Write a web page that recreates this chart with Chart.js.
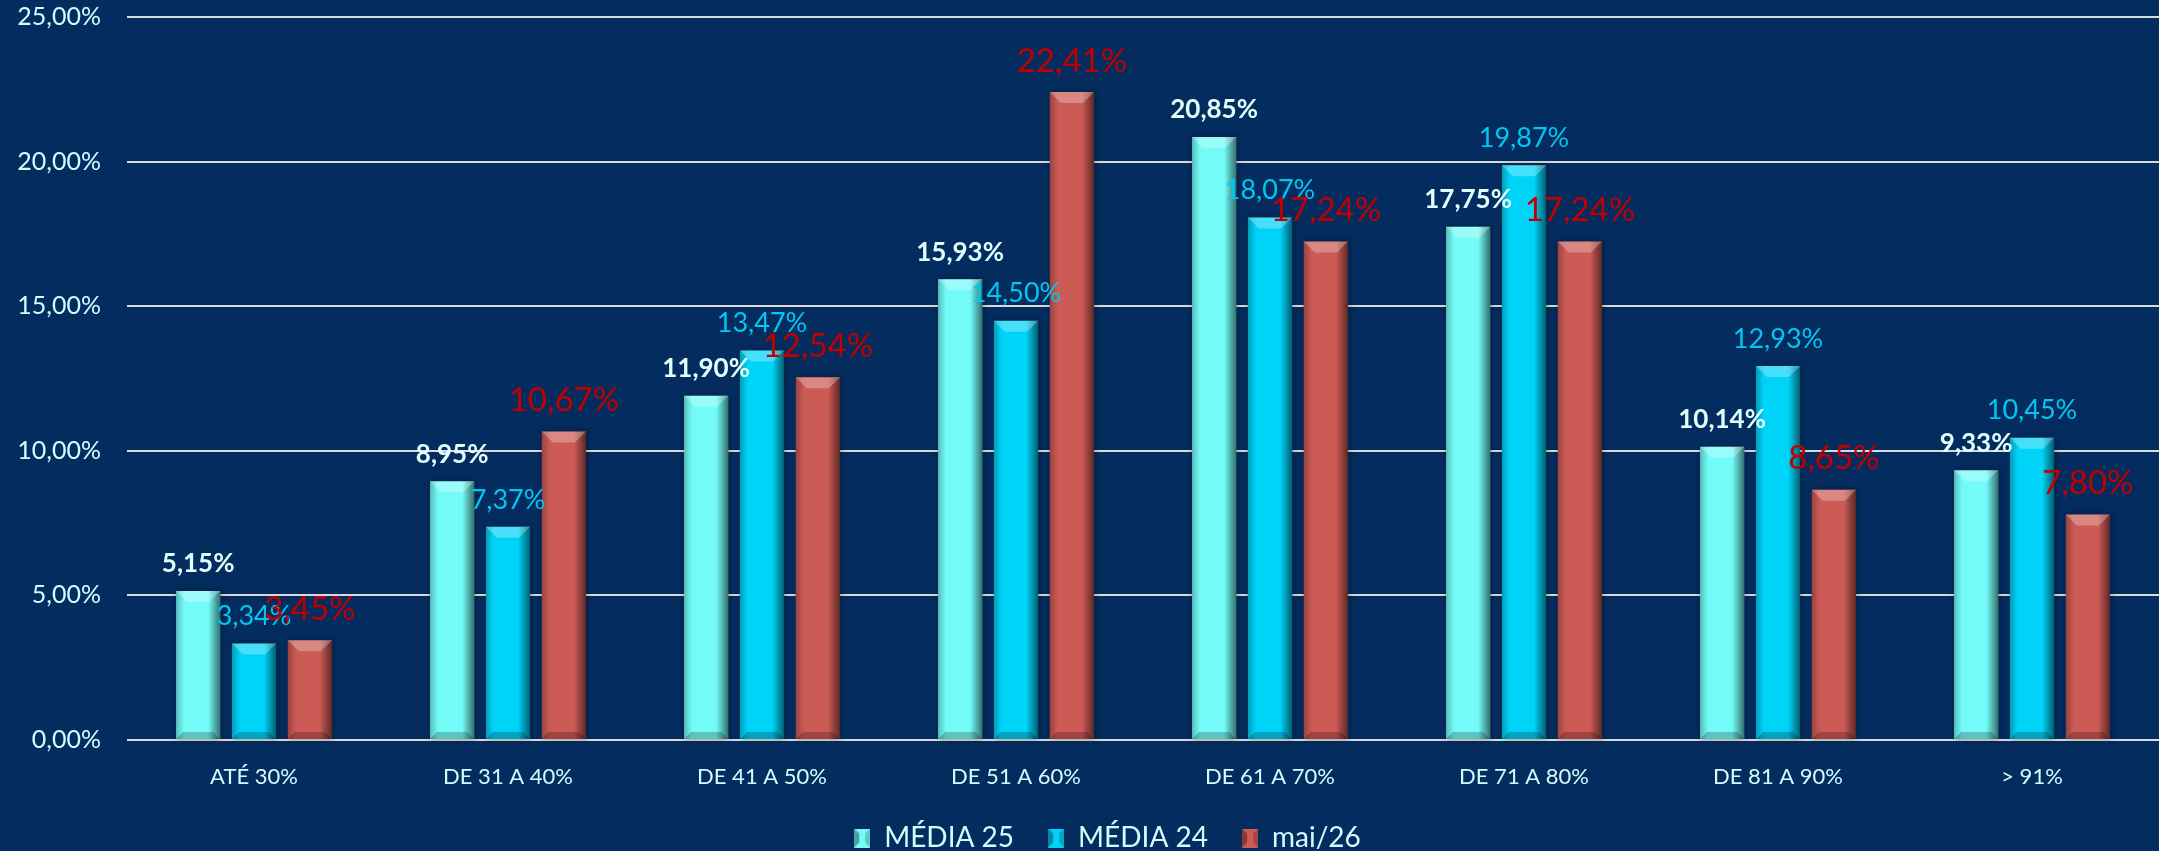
<!DOCTYPE html>
<html>
<head>
<meta charset="utf-8">
<title>Faixas</title>
<script src="https://cdn.jsdelivr.net/npm/chart.js@4.4.1/dist/chart.umd.min.js"></script>
<style>
  html, body { margin: 0; padding: 0; background: #042c5e; }
  #wrap { width: 2159px; height: 851px; position: relative; }
</style>
</head>
<body>
<div id="wrap"><canvas id="faixasChart"></canvas></div>
<script>
let categorias = ["ATÉ 30%", "DE 31 A 40%", "DE 41 A 50%", "DE 51 A 60%", "DE 61 A 70%", "DE 71 A 80%", "DE 81 A 90%", "> 91%"];
let media25 = [5.15, 8.95, 11.90, 15.93, 20.85, 17.75, 10.14, 9.33];
let media24 = [3.34, 7.37, 13.47, 14.50, 18.07, 19.87, 12.93, 10.45];
let mai26 = [3.45, 10.67, 12.54, 22.41, 17.24, 17.24, 8.65, 7.80];
let yTicks = [0, 5, 10, 15, 20, 25];

let fonte = "Lato, 'Open Sans', sans-serif";

function pct(v) {
    return v.toFixed(2).replace('.', ',') + '%';
}

// small bevelled square for the legend
function legendBox(cor) {
    let c = document.createElement('canvas');
    c.width = 16; c.height = 19;
    let g = c.getContext('2d');
    g.fillStyle = cor;
    g.fillRect(0, 0, 16, 19);
    g.fillStyle = 'rgba(0,0,0,0.35)';
    g.beginPath(); g.moveTo(0, 0); g.lineTo(5, 5); g.lineTo(5, 14); g.lineTo(0, 19); g.fill();
    g.fillStyle = 'rgba(0,0,0,0.2)';
    g.beginPath(); g.moveTo(16, 0); g.lineTo(11, 5); g.lineTo(11, 14); g.lineTo(16, 19); g.fill();
    return c;
}

// nudge the legend a bit to the right
const legendaPlugin = {
    id: 'legendaShift',
    afterLayout(chart) {
        chart.legend.left += 28;
        chart.legend.right += 28;
    }
};

// soft dark halo behind each bar
const sombraPlugin = {
    id: 'sombra',
    beforeDatasetsDraw(chart) {
        let ctx = chart.ctx;
        chart.data.datasets.forEach((ds, i) => {
            chart.getDatasetMeta(i).data.forEach((bar) => {
                ctx.save();
                ctx.shadowColor = 'rgba(0,0,0,0.55)';
                ctx.shadowBlur = 6;
                ctx.shadowOffsetX = 1;
                ctx.fillStyle = 'rgba(0,20,40,0.6)';
                ctx.fillRect(bar.x - bar.width / 2, bar.y, bar.width, bar.base - bar.y);
                ctx.restore();
            });
        });
    }
};

// light top bevel, dark right edge and bottom on each bar
const bevelPlugin = {
    id: 'bevel',
    afterDatasetsDraw(chart) {
        let ctx = chart.ctx;
        chart.data.datasets.forEach((ds, i) => {
            chart.getDatasetMeta(i).data.forEach((bar) => {
                let x0 = bar.x - bar.width / 2;
                let x1 = bar.x + bar.width / 2;
                let top = bar.y;
                let base = bar.base;
                let b = 11;
                ctx.save();

                let gl = ctx.createLinearGradient(x0, 0, x0 + 8, 0);
                gl.addColorStop(0, 'rgba(0,0,0,0.25)');
                gl.addColorStop(1, 'rgba(0,0,0,0)');
                ctx.fillStyle = gl;
                ctx.fillRect(x0, top, 8, base - top);

                let gr = ctx.createLinearGradient(x1 - 12, 0, x1, 0);
                gr.addColorStop(0, 'rgba(0,0,0,0)');
                gr.addColorStop(1, 'rgba(0,0,0,0.55)');
                ctx.fillStyle = gr;
                ctx.fillRect(x1 - 12, top, 12, base - top);

                ctx.fillStyle = 'rgba(255,255,255,0.28)';
                ctx.beginPath();
                ctx.moveTo(x0, top);
                ctx.lineTo(x1, top);
                ctx.lineTo(x1 - b, top + b);
                ctx.lineTo(x0 + b, top + b);
                ctx.closePath();
                ctx.fill();

                ctx.fillStyle = 'rgba(0,0,0,0.22)';
                ctx.beginPath();
                ctx.moveTo(x0, base);
                ctx.lineTo(x1, base);
                ctx.lineTo(x1 - 7, base - 7);
                ctx.lineTo(x0 + 7, base - 7);
                ctx.closePath();
                ctx.fill();
                ctx.restore();
            });
        });
    }
};

// value labels above the bars
const valorPlugin = {
    id: 'valores',
    afterDatasetsDraw(chart) {
        let ctx = chart.ctx;
        chart.data.datasets.forEach((ds, i) => {
            let st = ds.rotulo;
            chart.getDatasetMeta(i).data.forEach((bar, j) => {
                ctx.save();
                ctx.font = st.font;
                ctx.fillStyle = st.color;
                ctx.textAlign = 'center';
                ctx.textBaseline = 'middle';
                ctx.fillText(pct(ds.data[j]), bar.x, bar.y - st.offset);
                ctx.restore();
            });
        });
    }
};

const cores = ['#72fbf7', '#00d3f8', '#cc5a55'];

let ctx = document.getElementById('faixasChart').getContext('2d');
let chart = new Chart(ctx, {
    type: 'bar',
    data: {
        labels: categorias,
        datasets: [
            {
                label: 'MÉDIA 25',
                data: media25,
                backgroundColor: cores[0],
                rotulo: { font: 'bold 26px ' + fonte, color: '#e2ffff', offset: 27 }
            }, {
                label: 'MÉDIA 24',
                data: media24,
                backgroundColor: cores[1],
                rotulo: { font: '27px ' + fonte, color: '#00c8f2', offset: 27 }
            }, {
                label: 'mai/26',
                data: mai26,
                backgroundColor: cores[2],
                rotulo: { font: '33px ' + fonte, color: '#c00000', offset: 31 }
            }]
    },
    options: {
        responsive: true,
        maintainAspectRatio: false,
        animation: false,
        devicePixelRatio: 1,
        datasets: {
            bar: { categoryPercentage: 0.66, barPercentage: 0.79 }
        },
        layout: { padding: { top: 17, right: 0, bottom: 0, left: 0 } },
        scales: {
            x: {
                afterFit: (s) => { s.height = 50; },
                grid: { display: false, drawTicks: false },
                border: { display: false },
                ticks: { color: '#d6fbff', font: { family: fonte, size: 22 }, padding: 24 }
            },
            y: {
                min: 0,
                max: 25,
                afterFit: (s) => { s.width = 127; s.paddingTop = 0; s.paddingBottom = 0; },
                afterBuildTicks: (s) => { s.ticks = yTicks.map(v => ({ value: v })); },
                grid: { color: '#d9d9d9', lineWidth: 2, drawTicks: false },
                border: { display: false },
                ticks: {
                    color: '#d6fbff',
                    font: { family: fonte, size: 25 },
                    padding: 26,
                    callback: (v) => pct(v)
                }
            }
        },
        plugins: {
            tooltip: { enabled: false },
            legend: {
                position: 'bottom',
                maxHeight: 61,
                labels: {
                    color: '#d6fbff',
                    font: { family: fonte, size: 28 },
                    padding: 34,
                    usePointStyle: true,
                    pointStyleWidth: 16,
                    generateLabels: (c) => c.data.datasets.map((ds, i) => ({
                        text: ds.label,
                        fillStyle: cores[i],
                        strokeStyle: cores[i],
                        fontColor: '#d6fbff',
                        pointStyle: legendBox(cores[i]),
                        datasetIndex: i,
                        hidden: false,
                        lineWidth: 0
                    }))
                }
            }
        }
    },
    plugins: [legendaPlugin, sombraPlugin, bevelPlugin, valorPlugin]
});
</script>
</body>
</html>
